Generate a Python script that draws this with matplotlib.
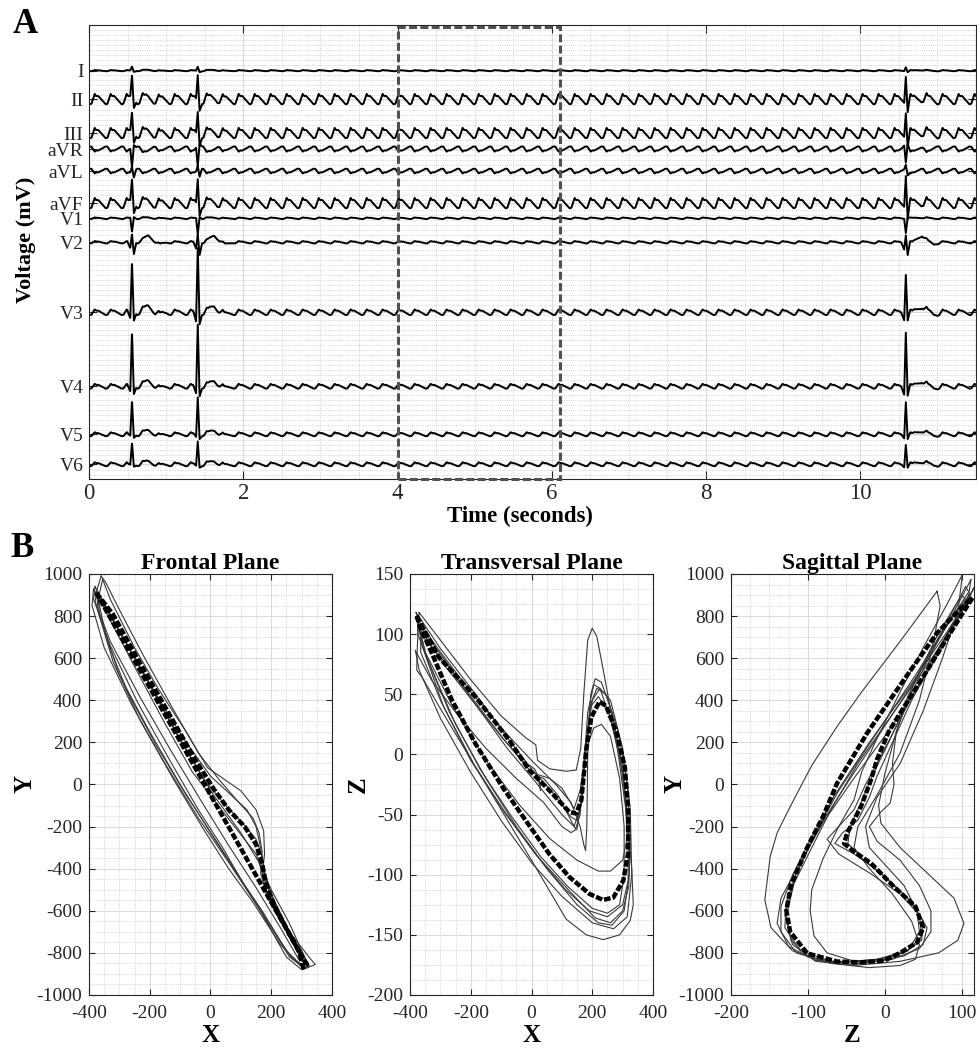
import numpy as np
import matplotlib
matplotlib.use('Agg')
import matplotlib.pyplot as plt
from matplotlib.ticker import MultipleLocator
from matplotlib.patches import Rectangle

plt.rcParams['font.family'] = ['Liberation Serif', 'DejaVu Serif']
plt.rcParams['axes.unicode_minus'] = False

# ---------------- Panel A: 12-lead ECG (values in mV) ----------------
leads = ['I', 'II', 'III', 'aVR', 'aVL', 'aVF', 'V1', 'V2', 'V3', 'V4', 'V5', 'V6']
lead_offsets = [-1.14, -1.85, -2.70, -3.10, -3.65, -4.45, -4.83, -5.43, -7.18, -9.03, -10.23, -10.98]

# flutter (sawtooth) waves: one cycle template, repeated at the flutter rate
flutter_start = 0.032
flutter_period = 0.2074
flutter_phase = [0.0, 0.20, 0.30, 0.42, 0.88, 1.0]
flutter_shape = [-0.9, 1.0, 0.55, 0.6, -1.0, -0.9]
flutter_amp = [0.015, 0.13, 0.13, -0.065, -0.06, 0.13, 0.02, 0.03, 0.07, 0.06, 0.05, 0.05]

# conducted beats
qrs_times = [0.557, 1.41, 10.59]
qrs_dt = [-0.06, -0.022, 0.0, 0.024, 0.055]
r_amp = [
    [0.10, 0.10, 0.10],
    [0.58, 0.62, 0.68],
    [0.50, 0.55, 0.62],
    [-0.45, -0.45, -0.40],
    [0.12, 0.12, 0.10],
    [0.58, 0.62, 0.80],
    [-0.35, -0.40, -0.35],
    [0.20, 0.20, 0.20],
    [1.25, 1.62, 1.00],
    [1.35, 1.55, 1.40],
    [0.83, 0.93, 0.85],
    [0.53, 0.58, 0.53],
]
q_frac = [0.0, 0.0, 0.0, -0.1, 0.0, 0.0, 0.0, -0.8, -0.15, -0.12, -0.08, -0.08]
s_frac = [-0.3, -0.35, -0.45, -0.2, -1.5, -0.4, -0.1, -1.5, -0.16, -0.14, -0.1, -0.1]

# T waves after each beat
t_dt = [0.08, 0.21, 0.30, 0.36, 0.45]
t_shape = [0.0, 1.0, 0.1, -0.3, 0.0]
t_amp = [0.02, 0.05, 0.05, -0.03, 0.0, 0.05, 0.02, 0.17, 0.16, 0.14, 0.10, 0.08]

box_t = [4.0, 6.1]

# ---------------- Panel B: vectorcardiogram loops ----------------
# Frontal plane (X, Y)
fr_mean = [(-376, 910), (-322, 810), (-245, 610), (-150, 370), (-55, 130), (10, -20), (60, -120),
           (115, -205), (150, -285), (170, -375), (182, -465), (210, -575), (258, -705), (298, -810),
           (318, -855), (305, -870), (290, -789), (220, -610), (150, -432), (80, -253), (10, -75),
           (-60, 104), (-130, 282), (-200, 461), (-270, 639), (-340, 818), (-376, 910)]
fr_beats = [
    [(-380, 940), (-300, 730), (-200, 470), (-100, 210), (-20, 20), (50, -100), (110, -190), (150, -260),
     (170, -340), (180, -440), (200, -540), (250, -680), (300, -810), (325, -860), (310, -875), (270, -830),
     (200, -680), (120, -500), (40, -300), (-40, -120), (-140, 130), (-240, 390), (-330, 660), (-385, 880),
     (-380, 940)],
    [(-355, 975), (-330, 880), (-250, 650), (-170, 450), (-80, 250), (-10, 80), (40, 30), (100, -30),
     (150, -120), (175, -220), (178, -330), (170, -430), (190, -540), (260, -700), (330, -830), (345, -855),
     (320, -870), (260, -820), (180, -630), (100, -450), (20, -270), (-80, -50), (-180, 190), (-270, 430),
     (-340, 680), (-370, 880), (-355, 975)],
    [(-385, 930), (-330, 780), (-250, 560), (-150, 290), (-60, 60), (20, -90), (90, -220), (150, -330),
     (180, -460), (230, -620), (290, -780), (320, -870), (300, -880), (250, -820), (160, -590), (60, -370),
     (-40, -160), (-150, 100), (-260, 380), (-350, 650), (-390, 850), (-385, 930)],
    [(-370, 900), (-280, 680), (-180, 430), (-90, 220), (0, 40), (60, -40), (120, -120), (150, -200),
     (165, -300), (175, -400), (200, -520), (240, -640), (280, -760), (310, -840), (300, -860), (250, -790),
     (170, -600), (80, -410), (0, -230), (-100, 0), (-200, 250), (-300, 520), (-365, 800), (-370, 900)],
    [(-360, 990), (-345, 960), (-300, 830), (-220, 610), (-120, 350), (-40, 150), (30, 20), (90, -80),
     (140, -160), (160, -230), (170, -320), (165, -420), (185, -530), (230, -650), (300, -790), (320, -850),
     (295, -860), (230, -760), (140, -560), (60, -400), (-20, -220), (-120, 20), (-230, 300), (-320, 580),
     (-370, 820), (-375, 920), (-360, 990)],
    [(-375, 910), (-290, 700), (-190, 450), (-90, 190), (10, -50), (100, -230), (160, -370), (200, -500),
     (260, -660), (310, -820), (315, -850), (290, -830), (230, -680), (150, -490), (60, -290), (-30, -80),
     (-130, 160), (-230, 410), (-330, 680), (-380, 870), (-375, 910)],
]

# Transversal plane (X, Z)
tr_mean = [(-378, 115), (-306, 81), (-185, 48), (-74, 12), (-8, -13), (59, -30), (125, -48), (147, -49),
           (164, -38), (180, 4), (197, 31), (224, 44), (246, 40), (280, 18), (307, -10), (318, -44),
           (318, -82), (302, -105), (269, -119), (235, -121), (191, -116), (125, -102), (59, -83),
           (-19, -55), (-96, -27), (-185, 9), (-262, 45), (-328, 84), (-367, 106), (-378, 115)]
tr_beats = [
    [(-370, 118), (-300, 95), (-200, 62), (-100, 32), (-20, 14), (14, 8), (20, -5), (60, -12), (114, -14),
     (147, -13), (162, 5), (172, 50), (185, 95), (200, 105), (215, 98), (240, 65), (280, 10), (310, -45),
     (330, -95), (335, -125), (325, -138), (290, -150), (236, -154), (180, -150), (114, -137), (0, -88),
     (-100, -46), (-200, -4), (-300, 38), (-360, 64), (-378, 70), (-376, 90), (-370, 118)],
    [(-375, 112), (-300, 85), (-200, 52), (-100, 22), (0, -5), (80, -25), (130, -40), (160, -60), (172, -75),
     (178, -80), (182, -60), (185, 0), (195, 50), (210, 63), (230, 60), (265, 35), (300, -10), (320, -60),
     (322, -100), (305, -130), (265, -142), (220, -140), (150, -125), (50, -95), (-50, -60), (-150, -20),
     (-250, 25), (-330, 72), (-375, 100), (-375, 112)],
    [(-370, 105), (-280, 72), (-180, 40), (-80, 5), (20, -25), (100, -50), (140, -60), (160, -45), (175, 0),
     (195, 40), (220, 48), (255, 35), (290, 0), (310, -40), (315, -70), (300, -88), (260, -97), (220, -97),
     (150, -88), (60, -70), (-40, -42), (-150, -5), (-260, 40), (-350, 85), (-370, 105)],
    [(-380, 118), (-300, 88), (-190, 52), (-80, 14), (0, -12), (70, -32), (130, -52), (150, -55), (165, -40),
     (178, 0), (192, 40), (215, 55), (245, 50), (285, 20), (315, -25), (325, -70), (320, -110), (300, -130),
     (260, -140), (210, -136), (130, -115), (20, -85), (-90, -48), (-190, -8), (-290, 40), (-360, 90),
     (-380, 118)],
    [(-372, 108), (-290, 80), (-190, 45), (-90, 12), (0, -15), (60, -20), (100, -28), (140, -45), (160, -30),
     (180, 5), (205, 22), (230, 25), (260, 15), (290, -20), (305, -60), (305, -100), (290, -125), (250, -132),
     (200, -128), (120, -110), (30, -85), (-70, -50), (-170, -12), (-270, 35), (-345, 80), (-372, 108)],
    [(-365, 100), (-280, 75), (-180, 40), (-100, 15), (-30, -5), (10, -12), (25, -20), (30, -30), (20, -18),
     (40, -20), (90, -35), (130, -55), (145, -62), (160, -50), (172, -10), (185, 35), (205, 58), (225, 55),
     (260, 30), (300, -15), (318, -60), (318, -105), (300, -125), (250, -135), (190, -130), (110, -112),
     (10, -82), (-90, -47), (-200, -5), (-300, 45), (-365, 85), (-365, 100)],
    [(-382, 86), (-330, 62), (-250, 35), (-150, 5), (-50, -20), (40, -40), (100, -60), (130, -65), (150, -62),
     (165, -35), (180, 10), (200, 45), (225, 55), (260, 45), (300, 5), (325, -45), (330, -100), (315, -135),
     (270, -145), (200, -140), (100, -118), (0, -90), (-100, -55), (-200, -15), (-300, 30), (-370, 70),
     (-382, 86)],
]

# Sagittal plane (Z, Y)
sa_mean = [(114, 886), (92, 760), (70, 630), (48, 500), (27, 380), (5, 250), (-10, 120), (-18, 21),
           (-31, -105), (-49, -232), (-53, -280), (-40, -319), (-18, -374), (12, -486), (40, -580),
           (50, -680), (42, -750), (20, -800), (-1, -837), (-30, -845), (-62, -841), (-101, -802),
           (-123, -700), (-128, -600), (-122, -480), (-101, -300), (-80, -150), (-62, 6), (-23, 244),
           (25, 498), (68, 720), (100, 840), (114, 886)]
sa_beats = [
    [(68, 918), (20, 680), (-30, 440), (-62, 276), (-95, 90), (-123, -105), (-140, -230), (-149, -342),
     (-156, -548), (-148, -680), (-120, -790), (-70, -850), (-20, -870), (20, -860), (40, -830), (45, -760),
     (35, -650), (10, -520), (-20, -400), (-40, -300), (-35, -200), (-10, -50), (20, 150), (45, 400),
     (62, 650), (72, 850), (68, 918)],
    [(100, 900), (70, 720), (40, 500), (15, 250), (0, 50), (-8, -100), (-5, -184), (20, -300), (55, -420),
     (90, -540), (103, -660), (95, -740), (70, -800), (20, -840), (-40, -860), (-90, -840), (-120, -760),
     (-130, -620), (-115, -420), (-85, -200), (-50, 0), (-5, 250), (40, 500), (80, 750), (105, 880), (100, 900)],
    [(112, 973), (90, 820), (60, 620), (30, 400), (5, 200), (-15, 50), (-30, -80), (-45, -200), (-48, -280),
     (-30, -350), (0, -440), (35, -560), (55, -680), (50, -760), (25, -815), (-20, -845), (-70, -840),
     (-110, -790), (-130, -680), (-128, -560), (-115, -420), (-90, -230), (-60, -30), (-15, 220), (40, 520),
     (85, 780), (110, 920), (112, 973)],
    [(101, 997), (80, 850), (50, 650), (20, 440), (-10, 220), (-30, 60), (-40, -73), (-60, -200), (-80, -350),
     (-95, -500), (-97, -600), (-92, -720), (-75, -800), (-40, -840), (0, -830), (30, -790), (45, -700),
     (42, -600), (25, -480), (0, -380), (-20, -300), (-25, -200), (-10, -60), (20, 100), (50, 350), (75, 600),
     (95, 820), (101, 997)],
    [(116, 933), (95, 800), (65, 600), (35, 400), (10, 200), (-10, 40), (-20, -60), (-35, -170), (-55, -230),
     (-65, -280), (-40, -330), (-5, -420), (30, -540), (50, -650), (48, -740), (25, -800), (-20, -840),
     (-75, -845), (-115, -800), (-135, -700), (-135, -580), (-120, -430), (-95, -250), (-65, -50), (-20, 200),
     (35, 480), (80, 720), (108, 880), (116, 933)],
    [(105, 940), (85, 800), (55, 600), (30, 420), (15, 250), (10, 100), (12, 0), (7, -89), (-5, -130),
     (-20, -200), (-10, -270), (20, -360), (45, -480), (60, -600), (60, -700), (45, -780), (10, -830),
     (-40, -855), (-90, -835), (-125, -770), (-140, -660), (-135, -540), (-110, -370), (-80, -180), (-40, 30),
     (10, 280), (60, 560), (95, 780), (112, 900), (105, 940)],
    [(110, 905), (88, 760), (60, 580), (30, 380), (0, 170), (-25, 0), (-40, -120), (-60, -200), (-75, -260),
     (-60, -330), (-20, -420), (20, -520), (45, -620), (48, -720), (30, -790), (-10, -830), (-60, -845),
     (-100, -820), (-122, -740), (-128, -620), (-118, -470), (-95, -300), (-70, -120), (-35, 100), (15, 360),
     (65, 620), (100, 820), (110, 905)],
]

GRID_MAJ = '#dcdcdc'
GRID_MIN = '#c4c4c4'
AX_COL = '#262626'


def style_axes(ax, tick_len):
    ax.tick_params(which='both', direction='in', top=True, right=True, colors=AX_COL, width=0.8)
    ax.tick_params(which='major', length=tick_len)
    ax.tick_params(which='minor', length=0)
    ax.grid(which='major', color=GRID_MAJ, lw=0.8)
    ax.grid(which='minor', color=GRID_MIN, lw=0.6, linestyle=':')
    ax.set_axisbelow(True)
    for s in ax.spines.values():
        s.set_color(AX_COL)
        s.set_linewidth(0.8)


fig = plt.figure(figsize=(9.77, 10.48), dpi=100)

# ---- Panel A ----
axA = fig.add_axes([0.0911, 0.5429, 0.9079, 0.4332])
t = np.arange(0, 11.5, 0.002)
phase = ((t - flutter_start) / flutter_period) % 1.0
flutter = np.interp(phase, flutter_phase, flutter_shape)

for i, lead in enumerate(leads):
    sig = flutter_amp[i] * flutter
    for k, tq in enumerate(qrs_times):
        vals = r_amp[i][k] * np.array([0.0, q_frac[i], 1.0, s_frac[i], 0.0])
        sig = sig + np.interp(t - tq, qrs_dt, vals, left=0, right=0)
        sig = sig + t_amp[i] * np.interp(t - tq, t_dt, t_shape, left=0, right=0)
    axA.plot(t, sig + lead_offsets[i], color='black', lw=1.4)

axA.set_xlim(0, 11.5)
axA.set_ylim(-11.35, 0)
axA.set_xticks([0, 2, 4, 6, 8, 10])
axA.xaxis.set_minor_locator(MultipleLocator(0.5))
axA.set_yticks(lead_offsets)
axA.set_yticklabels(leads)
axA.yaxis.set_minor_locator(MultipleLocator(0.125))
style_axes(axA, 6)
axA.tick_params(axis='x', labelsize=16.5, pad=3)
axA.tick_params(axis='y', labelsize=14, pad=4)

axA.add_patch(Rectangle((box_t[0], -11.35), box_t[1] - box_t[0], 11.30, fill=False,
                        edgecolor='#505050', lw=2.2, linestyle=(0, (2.6, 1.1)), zorder=5, clip_on=False))

fig.text(0.532, 0.5076, 'Time (seconds)', ha='center', va='center', fontsize=16.5, fontweight='bold')
fig.text(0.027, 0.771, 'Voltage (mV)', ha='center', va='center', rotation=90, fontsize=16,
         fontweight='bold')
fig.text(0.026, 0.977, 'A', ha='center', va='center', fontsize=25, fontweight='bold')
fig.text(0.023, 0.477, 'B', ha='center', va='center', fontsize=25, fontweight='bold')

# ---- Panel B ----
planes = [
    ('Frontal Plane', fr_beats, fr_mean, 'X', 'Y', (-400, 400), (-1000, 1000), 200, 50, 200, 50, 0.0911),
    ('Transversal Plane', tr_beats, tr_mean, 'X', 'Z', (-400, 400), (-200, 150), 200, 50, 50, 12.5, 0.4197),
    ('Sagittal Plane', sa_beats, sa_mean, 'Z', 'Y', (-200, 116), (-1000, 1000), 100, 25, 200, 50, 0.7482),
]
label_x = [0.0256, 0.3664, 0.6909]

for j, (title, beats, mean, xl, yl, xlim, ylim, xmaj, xmin, ymaj, ymin, left) in enumerate(planes):
    ax = fig.add_axes([left, 0.0506, 0.2487, 0.4017])
    for loop in beats:
        xs, ys = zip(*loop)
        ax.plot(xs, ys, color='#3a3a3a', lw=0.8)
    xs, ys = zip(*mean)
    ax.plot(xs, ys, color='black', lw=3.2, linestyle=(0, (1.5, 0.45)))
    ax.set_xlim(*xlim)
    ax.set_ylim(*ylim)
    ax.xaxis.set_major_locator(MultipleLocator(xmaj))
    ax.xaxis.set_minor_locator(MultipleLocator(xmin))
    ax.yaxis.set_major_locator(MultipleLocator(ymaj))
    ax.yaxis.set_minor_locator(MultipleLocator(ymin))
    style_axes(ax, 4)
    ax.tick_params(labelsize=14)
    ax.tick_params(axis='x', pad=7)
    ax.tick_params(axis='y', pad=5)
    ax.set_title(title, fontsize=17, fontweight='bold', pad=2)
    fig.text(left + 0.1243, 0.0124, xl, ha='center', va='center', fontsize=18, fontweight='bold')
    fig.text(label_x[j], 0.2515, yl, ha='center', va='center', rotation=90, fontsize=18, fontweight='bold')

fig.savefig('out.png', dpi=100)
